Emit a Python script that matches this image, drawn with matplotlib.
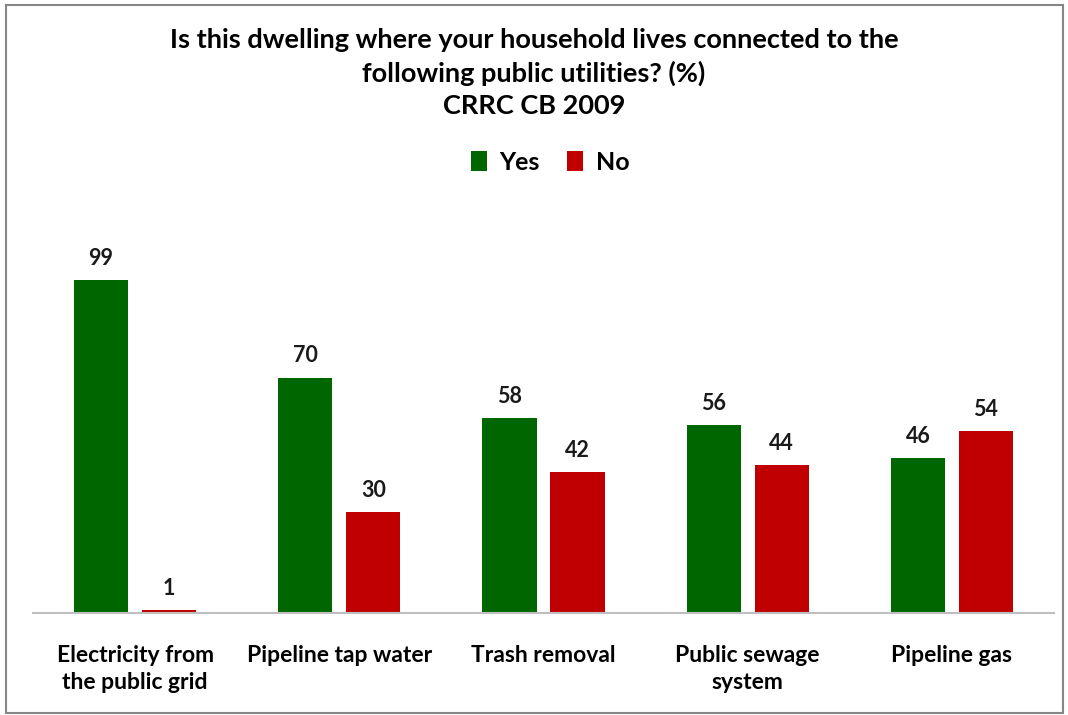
import matplotlib

matplotlib.use("Agg")
import matplotlib.pyplot as plt
import numpy as np
from matplotlib.patches import Rectangle

plt.rcParams["font.family"] = ["Lato", "DejaVu Sans"]

categories = ["Electricity from\nthe public grid", "Pipeline tap water",
              "Trash removal", "Public sewage\nsystem", "Pipeline gas"]
yes_vals = [99, 70, 58, 56, 46]
no_vals = [1, 30, 42, 44, 54]

GREEN = "#006600"
RED = "#C00000"

W, H = 1068, 715
fig = plt.figure(figsize=(W / 100, H / 100), dpi=100)

# axes placed in pixel terms of the reference
left, right, base, top = 33, 1054, 613, 230
ax = fig.add_axes([left / W, 1 - base / H, (right - left) / W, (base - top) / H])

x = np.arange(len(categories))
bw = 0.265
off = 0.1665
b1 = ax.bar(x - off, yes_vals, bw, color=GREEN, label="Yes")
b2 = ax.bar(x + off, no_vals, bw, color=RED, label="No")

for bars in (b1, b2):
    for r in bars:
        ax.annotate(f"{r.get_height():.0f}", (r.get_x() + r.get_width() / 2, r.get_height()),
                    xytext=(0, 8), textcoords="offset points", ha="center", va="bottom",
                    fontsize=15.5, fontweight="bold", color="#1a1a1a")

ax.set_xlim(-0.5, len(categories) - 0.5)
ax.set_ylim(0, (base - top) / 3.364)
ax.set_xticks(x)
ax.set_xticklabels(categories, fontsize=16.5, fontweight="bold", linespacing=1.38)
ax.tick_params(axis="x", length=0, pad=23)
ax.set_yticks([])
for s in ("left", "right", "top"):
    ax.spines[s].set_visible(False)
ax.spines["bottom"].set_color("#bfbfbf")
ax.spines["bottom"].set_linewidth(1.5)

title_lines = ["Is this dwelling where your household lives connected to the",
               "following public utilities? (%)",
               "CRRC CB 2009"]
for yy, line in zip([40, 73, 106], title_lines):
    fig.text(0.5, 1 - yy / H, line, ha="center", va="center",
             fontsize=19.5, fontweight="bold")

fig.legend(handles=[b1, b2], labels=["Yes", "No"], loc="center",
           bbox_to_anchor=(0.515, 1 - 162 / H), ncol=2, frameon=False,
           prop={"size": 18, "weight": "bold"}, handlelength=0.65, handleheight=0.85,
           handletextpad=0.5, columnspacing=1.1)

fig.patches.append(Rectangle((6 / W, 2 / H), 1057 / W, 708 / H, transform=fig.transFigure,
                             fill=False, edgecolor="#868686", linewidth=1.5))

fig.savefig("out.png", dpi=100)
